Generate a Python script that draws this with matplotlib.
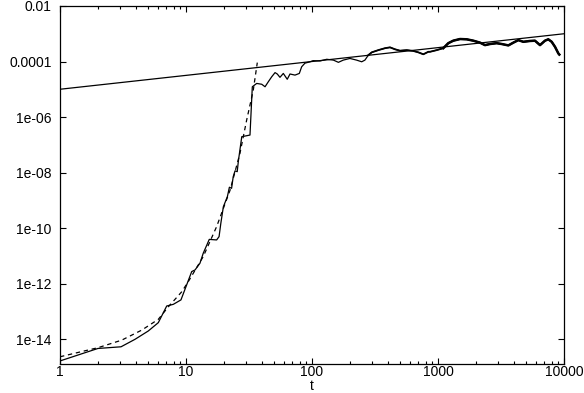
import numpy as np
import matplotlib
matplotlib.use("Agg")
import matplotlib.pyplot as plt
from matplotlib.ticker import FixedLocator, LogLocator, NullFormatter, NullLocator

plt.rcParams['font.family'] = ['Liberation Sans', 'DejaVu Sans']

# simulated quantity vs t (log10 of the values)
t_data = [1, 2.0, 3.05, 3.94, 5.02, 6.03, 7.03, 7.93, 9.12, 11.1, 11.8, 12.9,
          13.7, 15.3, 17.5, 18.3, 18.9, 19.8, 21.3, 22.1, 23.0, 23.7, 24.5,
          25.5, 26.0, 27.7, 32.2, 33.2, 33.6, 36.4, 39.9, 42.4, 45.0, 47.9,
          50.9, 53.0, 55.7, 59.2, 63.6, 66.9, 73.3, 79.3, 82.8, 87.9, 96.4,
          102, 116, 131, 148, 162, 177, 200, 226, 248, 263, 280, 298, 336,
          380, 416, 456, 499, 565, 637, 698, 765, 838, 864, 977, 1102, 1207,
          1322, 1496, 1690, 1907, 2154, 2360, 2586, 2922, 3204, 3617, 3963,
          4339, 4753, 5370, 5884, 6450, 7063, 7505, 7985, 8483, 9023, 9180]
logy_data = [-14.79, -14.34, -14.28, -14.01, -13.71, -13.41, -12.81, -12.75,
             -12.59, -11.57, -11.51, -11.27, -10.91, -10.41, -10.43, -10.31,
             -9.83, -9.23, -8.87, -8.53, -8.57, -8.15, -7.94, -7.97, -7.61,
             -6.71, -6.65, -5.39, -4.91, -4.79, -4.82, -4.91, -4.73, -4.55,
             -4.40, -4.45, -4.57, -4.43, -4.64, -4.45, -4.49, -4.43, -4.19,
             -4.06, -4.01,
             -3.97, -3.98, -3.92, -3.95, -4.03, -3.95, -3.89, -3.95, -4.01,
             -3.95, -3.77, -3.67, -3.59, -3.52, -3.49, -3.56, -3.61, -3.59,
             -3.62, -3.67, -3.74, -3.65, -3.65, -3.59, -3.52, -3.34, -3.25,
             -3.19, -3.20, -3.25, -3.32, -3.41, -3.37, -3.34, -3.37, -3.42,
             -3.32, -3.23, -3.29, -3.26, -3.25, -3.41, -3.25, -3.20, -3.29,
             -3.47, -3.71, -3.75]

# exponential fit (dashed)
t_exp = [1, 2.01, 3.09, 4.45, 6.03, 7.24, 9.24, 10.4, 13.7, 17.5, 22.4, 26.8,
         30.3, 34.2, 36.8]
logy_exp = [-14.64, -14.31, -14.04, -13.68, -13.29, -12.84, -12.30, -11.94,
            -11.03, -9.95, -8.63, -7.31, -6.11, -5.03, -4.04]

# power-law fit (t^0.5)
t_pow = [1, 10000]
y_pow = [1e-5, 1e-3]

y_ticks = [1e-2, 1e-4, 1e-6, 1e-8, 1e-10, 1e-12, 1e-14]
y_labels = ['0.01', '0.0001', '1e-06', '1e-08', '1e-10', '1e-12', '1e-14']
x_ticks = [1, 10, 100, 1000, 10000]
x_labels = ['1', '10', '100', '1000', '10000']

t_data = np.array(t_data)
y_data = 10 ** np.array(logy_data)
y_exp = 10 ** np.array(logy_exp)

fig = plt.figure(figsize=(5.84, 3.93), dpi=100)
ax = fig.add_axes([60 / 584, 1 - 364 / 393, 504 / 584, 358 / 393])

ax.plot(t_data, y_data, color='black', lw=0.9)
late = t_data >= 280
ax.plot(t_data[late], y_data[late], color='black', lw=1.3)
later = t_data >= 1100
ax.plot(t_data[later], y_data[later], color='black', lw=1.8)
ax.plot(t_exp, y_exp, color='black', lw=0.9, linestyle=(0, (3.5, 3)))
ax.plot(t_pow, y_pow, color='black', lw=0.9)

ax.set_xscale('log')
ax.set_yscale('log')
ax.set_xlim(1, 10000)
ax.set_ylim(10 ** -14.9, 1e-2)

ax.xaxis.set_major_locator(FixedLocator(x_ticks))
ax.set_xticklabels(x_labels)
ax.xaxis.set_minor_locator(LogLocator(base=10, subs=np.arange(2, 10)))
ax.xaxis.set_minor_formatter(NullFormatter())
ax.yaxis.set_major_locator(FixedLocator(y_ticks))
ax.set_yticklabels(y_labels)
ax.yaxis.set_minor_locator(NullLocator())

ax.tick_params(which='both', direction='in', top=True, right=True,
               labelsize=10, width=0.8)
ax.tick_params(which='major', length=4.5)
ax.tick_params(which='minor', length=2.5)
ax.tick_params(axis='x', pad=1)
ax.tick_params(axis='y', pad=6)
for s in ax.spines.values():
    s.set_linewidth(0.9)

ax.set_xlabel('t', fontsize=10, labelpad=0)

fig.savefig('out.png', dpi=100)
